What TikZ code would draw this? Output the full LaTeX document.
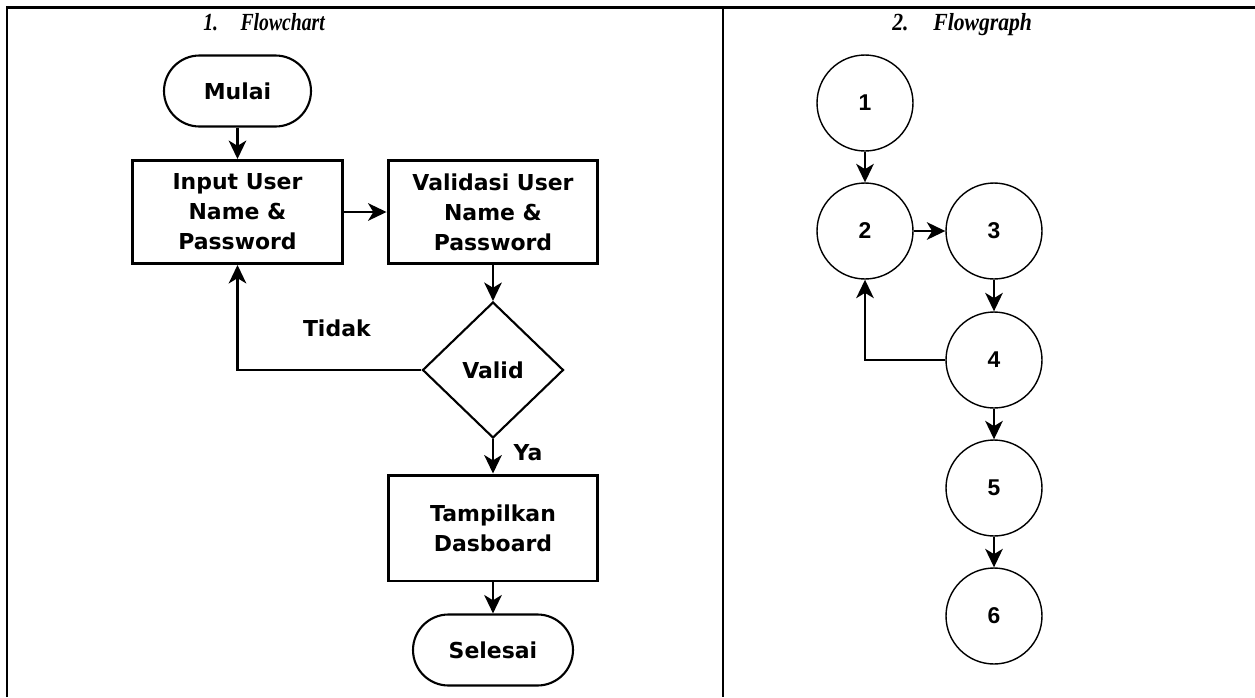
\documentclass[tikz,border=0pt]{standalone}
\usepackage{fontspec}
\newfontfamily\titlefont{Liberation Serif}
\newfontfamily\chartfont{DejaVu Sans}
\newfontfamily\graphfont{Liberation Sans}
\usetikzlibrary{shapes.geometric, arrows.meta, positioning}

\begin{document}
\begin{tikzpicture}[
    x=0.02cm, y=-0.02cm,
    frame/.style={line width=1.3pt},
    title/.style={anchor=base west, inner sep=0, font=\titlefont\bfseries\itshape\fontsize{14pt}{16pt}\selectfont},
    box/.style={rectangle, draw, line width=1.7pt, align=center, minimum width=4.2cm, minimum height=2.06cm, font=\chartfont\bfseries\fontsize{12.5pt}{17pt}\selectfont},
    term/.style={rectangle, draw, rounded corners=0.71cm, line width=1.2pt, align=center, minimum height=1.42cm, font=\chartfont\bfseries\fontsize{12.5pt}{17pt}\selectfont},
    decision/.style={diamond, draw, line width=1.2pt, minimum width=2.82cm, minimum height=2.72cm, inner sep=0, font=\chartfont\bfseries\fontsize{12.5pt}{17pt}\selectfont},
    vertex/.style={circle, draw, line width=0.8pt, minimum size=1.92cm, font=\graphfont\bfseries\fontsize{13pt}{15pt}\selectfont},
    lbl/.style={inner sep=0, font=\chartfont\bfseries\fontsize{12.5pt}{17pt}\selectfont},
    arrow/.style={-{Stealth[length=10.5pt, width=10pt, inset=3pt]}, line width=1.3pt}
]
\useasboundingbox (0,0) rectangle (1255,697);

% Table
\draw[frame] (7,697) -- (7,7.5) -- (1255,7.5);
\draw[frame] (723,7.5) -- (723,697);
\node[title] (title1) at (203,30) {\scalebox{0.8}[1]{1.\hspace{16pt}Flowchart}};
\node[title] (title2) at (892,30) {\scalebox{0.88}[1]{2.\hspace{16pt}Flowgraph}};

% Flowchart
\node[term, minimum width=2.94cm] (mulai) at (237.5,91) {Mulai};
\node[box] (input) at (237.5,212) {Input User\\Name \&\\Password};
\node[box] (validasi) at (493,212) {Validasi User\\Name \&\\Password};
\node[decision] (valid) at (493,370) {Valid};
\node[box, minimum height=2.12cm] (tampil) at (493,528) {Tampilkan\\Dasboard};
\node[term, minimum width=3.2cm] (selesai) at (493,650) {Selesai};

\draw[arrow] (mulai) -- (input);
\draw[arrow] (input) -- (validasi);
\draw[arrow] (validasi) -- (valid);
\draw[arrow] (valid.west) -| node[lbl, pos=0.23, yshift=0.84cm] {Tidak} (input.south);
\draw[arrow] (valid) -- node[lbl, pos=0.38, xshift=0.7cm] {Ya} (tampil);
\draw[arrow] (tampil) -- (selesai);

% Flowgraph
\node[vertex] (n1) at (865,103) {1};
\node[vertex] (n2) at (865,231) {2};
\node[vertex] (n3) at (994,231) {3};
\node[vertex] (n4) at (994,360) {4};
\node[vertex] (n5) at (994,488) {5};
\node[vertex] (n6) at (994,616) {6};

\draw[arrow] (n1) -- (n2);
\draw[arrow] (n2) -- (n3);
\draw[arrow] (n3) -- (n4);
\draw[arrow] (n4.west) -| (n2.south);
\draw[arrow] (n4) -- (n5);
\draw[arrow] (n5) -- (n6);

\end{tikzpicture}
\end{document}
